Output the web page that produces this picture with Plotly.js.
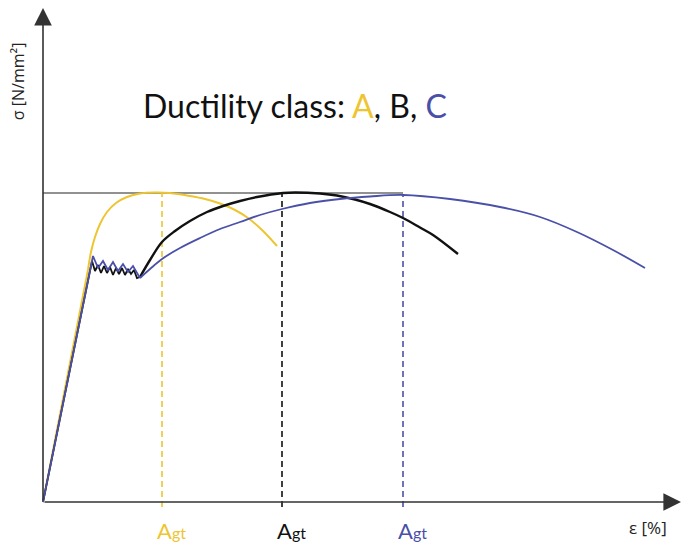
<!DOCTYPE html>
<html>
<head>
<meta charset="utf-8">
<script src="https://cdn.plot.ly/plotly-3.0.1.min.js"></script>
<style>html,body{margin:0;padding:0;background:#fff;}#chart{width:681px;height:544px;}</style>
</head>
<body>
<div id="chart"></div>
<script>
// Strain (ε) and stress (σ) values, arbitrary units
// Class A (yellow): elastic line, then rounded curve
const aEpsElastic = [0, 45];
const aSigElastic = [0, 232];
const aEpsCurve = [45, 48, 52, 57, 64, 73, 84, 97, 112, 127, 147, 162, 177, 192, 205, 219, 234];
const aSigCurve = [232, 250, 265, 278, 290, 299, 305, 308.5, 309.5, 309, 306, 303, 298.5, 292, 284, 272, 256];
// Class B (black): elastic + yield plateau, then hardening
const bEpsYield = [0, 49, 52, 55, 58, 61, 64, 67, 70, 73, 76, 79, 82, 85, 88, 91, 94, 97];
const bSigYield = [0, 241, 231, 237, 229, 236, 229, 235, 227, 234, 228, 234, 227, 233, 228, 232, 224, 225];
const bEpsHard = [97, 107, 119, 132, 147, 164, 180, 197, 214, 240, 252, 277, 294, 312, 327, 347, 360, 377, 390, 415];
const bSigHard = [225, 242, 260, 271, 281, 290, 296, 301, 305, 309, 309.5, 308.5, 306.5, 302.5, 298, 290, 284, 274.5, 267, 248];
// Class C (blue)
const cEpsYield = [0, 50, 55, 60, 65, 70, 75, 80, 85, 90, 97];
const cSigYield = [0, 246, 234, 241, 232, 240, 231, 238, 230, 236, 224];
const cEpsHard = [97, 107, 119, 137, 157, 177, 197, 217, 239, 267, 297, 327, 360, 407, 457, 497, 534, 570, 602];
const cSigHard = [224, 233, 243, 254, 264, 273, 280, 287, 293, 299, 303, 305.5, 307, 303, 295, 285, 270, 252, 234];
// Uniform elongation at max force (Agt) and tensile strength level
const agtEps = [119, 239, 360];
const agtSig = [310, 309.5, 307];
const rmLevel = 309;
const classNames = ['A', 'B', 'C'];

const YEL = '#EDC531', BLK = '#111111', BLU = '#4A50A8';
const colors = [YEL, BLK, BLU];

const traces = [];
function line(x, y, color, width, shape, dash) {
  traces.push({x: x, y: y, type: 'scatter', mode: 'lines', hoverinfo: 'skip',
    line: {color: color, width: width, shape: shape || 'linear', smoothing: 1, dash: dash || 'solid'}});
}
// tensile strength level
line([0, agtEps[2]], [rmLevel, rmLevel], '#6d6d6d', 1.6);
// Agt dashed verticals
for (let i = 0; i < 3; i++) {
  line([agtEps[i], agtEps[i]], [-5, agtSig[i]], colors[i], 1.6, 'linear', '6px,4px');
}
line(aEpsElastic, aSigElastic, YEL, 2);
line(aEpsCurve, aSigCurve, YEL, 2, 'spline');
line(bEpsYield, bSigYield, BLK, 1.8);
line(bEpsHard, bSigHard, BLK, 2.4, 'spline');
line(cEpsYield, cSigYield, BLU, 1.8);
line(cEpsHard, cSigHard, BLU, 1.8, 'spline');

const annotations = [
  // axes with arrows
  {x: 638, y: 0, ax: 0, ay: 0, xref: 'x', yref: 'y', axref: 'x', ayref: 'y', text: '',
   showarrow: true, arrowhead: 2, arrowsize: 2.2, arrowwidth: 1.6, arrowcolor: '#333', standoff: 0},
  {x: 0, y: 494, ax: 0, ay: 0, xref: 'x', yref: 'y', axref: 'x', ayref: 'y', text: '',
   showarrow: true, arrowhead: 2, arrowsize: 2.2, arrowwidth: 1.6, arrowcolor: '#333', standoff: 0},
  {x: -0.023, y: 0.85, xref: 'paper', yref: 'paper', xanchor: 'center', yanchor: 'middle',
   text: 'σ [N/mm²]', showarrow: false, textangle: -90,
   font: {family: 'Open Sans, sans-serif', size: 16, color: '#222'}},
  {x: 605, y: -0.03, xref: 'x', yref: 'paper', xanchor: 'center', yanchor: 'middle',
   text: 'ε [%]', showarrow: false,
   font: {family: 'Open Sans, sans-serif', size: 17, color: '#222'}},
  {x: 252, y: 397, xref: 'x', yref: 'y', xanchor: 'center', yanchor: 'middle', showarrow: false,
   text: 'Ductility class: <span style="color:' + YEL + '">A</span>, B, <span style="color:' + BLU + '">C</span>',
   font: {family: 'Lato, sans-serif', size: 32, color: '#111'}}
];
for (let i = 0; i < 3; i++) {
  annotations.push({x: agtEps[i] - 7, y: -0.036, xref: 'x', yref: 'paper', xanchor: 'left', yanchor: 'middle', showarrow: false,
    text: 'A<span style="font-size:16px">gt</span>',
    font: {family: 'Lato, sans-serif', size: 22, color: colors[i]}});
}

const layout = {
  width: 681, height: 544,
  margin: {l: 33, r: 0, t: 5, b: 32},
  paper_bgcolor: '#fff', plot_bgcolor: '#fff',
  showlegend: false,
  xaxis: {range: [-10, 638], showgrid: false, zeroline: false, showline: false, showticklabels: false, ticks: '', fixedrange: true},
  yaxis: {range: [-10, 497], showgrid: false, zeroline: false, showline: false, showticklabels: false, ticks: '', fixedrange: true},
  annotations: annotations
};
Plotly.newPlot('chart', traces, layout, {displayModeBar: false, staticPlot: true});
</script>
</body>
</html>
